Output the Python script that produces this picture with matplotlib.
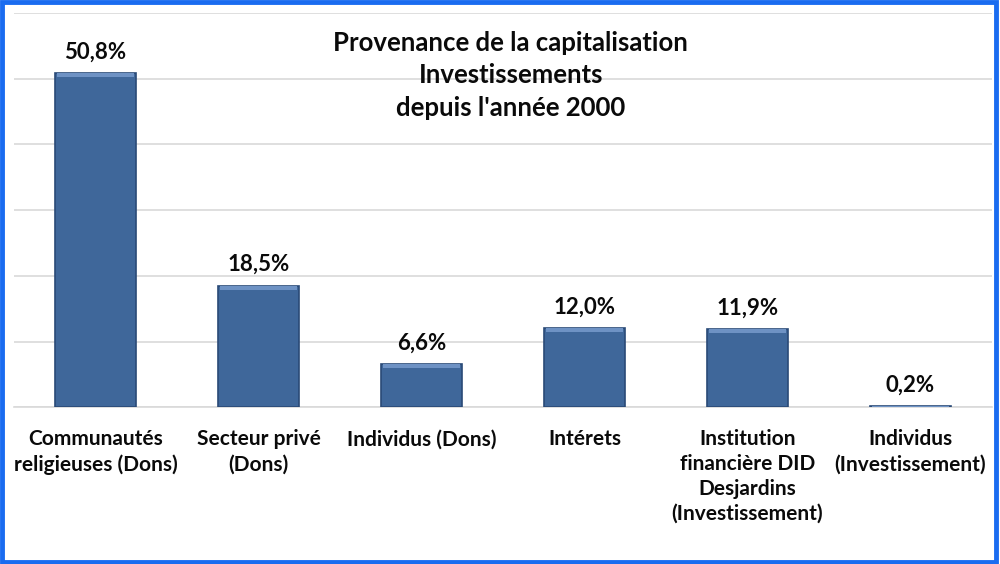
import matplotlib.pyplot as plt
from matplotlib.patches import Rectangle

categories = ['Communautés\nreligieuses (Dons)', 'Secteur privé\n(Dons)', 'Individus (Dons)',
              'Intérets', 'Institution\nfinancière DID\nDesjardins\n(Investissement)',
              'Individus\n(Investissement)']
values = [50.8, 18.5, 6.6, 12.0, 11.9, 0.2]
labels = ['50,8%', '18,5%', '6,6%', '12,0%', '11,9%', '0,2%']

plt.rcParams['font.family'] = ['Lato', 'DejaVu Sans']

fig = plt.figure(figsize=(10, 5.64), dpi=100)
ax = fig.add_axes([0.014, 0.278, 0.978, 0.699])

x = range(len(values))
bars = ax.bar(x, values, width=0.5, color='#3F679A', edgecolor='#2A4A77', linewidth=1.2, zorder=3)
# light bevel along the top of each bar
ax.bar(x, [min(v, 0.6) for v in values], bottom=[v - min(v, 0.6) for v in values], width=0.47,
       color='#6E92C4', linewidth=0, zorder=4)

for b, lab in zip(bars, labels):
    ax.text(b.get_x() + b.get_width() / 2, b.get_height() + 1.6, lab,
            ha='center', va='bottom', fontsize=16, fontweight='bold', color='#0A0A0A')

ax.set_xlim(-0.5, len(values) - 0.5)
ax.set_ylim(0, 60)
ax.set_yticks(range(0, 61, 10))
ax.yaxis.grid(True, color='#D9D9D9', linewidth=1.2, zorder=0)
ax.tick_params(axis='y', left=False, labelleft=False)
ax.tick_params(axis='x', length=0, pad=16)
ax.set_xticks(list(x))
ax.set_xticklabels(categories, fontsize=15, fontweight='bold', color='#0A0A0A', linespacing=1.3, va='top')
for s in ['top', 'right', 'left']:
    ax.spines[s].set_visible(False)
ax.spines['bottom'].set_color('#D9D9D9')
ax.spines['bottom'].set_linewidth(1.2)

ax.text(0.508, 0.955, "Provenance de la capitalisation\nInvestissements\ndepuis l'année 2000",
        transform=ax.transAxes, ha='center', va='top', fontsize=18.5, fontweight='bold',
        linespacing=1.42, color='#0A0A0A')

# blue frame around the chart
fig.patches.append(Rectangle((0.002, 0.004), 0.994, 0.992, transform=fig.transFigure,
                             fill=False, edgecolor='#1A6CF0', linewidth=3.5))

fig.savefig('out.png', dpi=100, facecolor='white')
